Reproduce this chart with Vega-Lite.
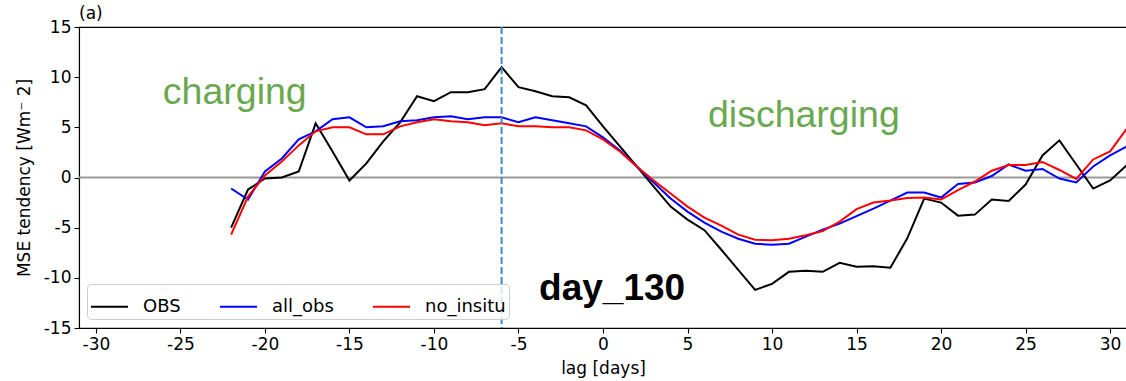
{
  "$schema": "https://vega.github.io/schema/vega-lite/v6.json",
  "width": 1048,
  "height": 301,
  "autosize": {"type": "none"},
  "padding": {"left": 79, "top": 27, "right": 0, "bottom": 53},
  "background": "white",
  "title": {"text": "(a)", "anchor": "start", "frame": "group", "fontSize": 17, "font": "DejaVu Sans", "fontWeight": "normal", "color": "#000000", "offset": -5},
  "config": {
    "view": {"stroke": "#000000", "strokeWidth": 1.1},
    "axis": {"labelFont": "DejaVu Sans", "titleFont": "DejaVu Sans", "labelFontSize": 17, "titleFontSize": 17, "labelColor": "#000000", "titleColor": "#000000", "titleFontWeight": "normal", "domainColor": "#000000", "tickColor": "#000000", "tickSize": 5, "grid": false, "domainWidth": 1.1, "tickWidth": 1.1}
  },
  "datasets": {
    "mse": [
      {"lag": -22, "OBS": -5.0, "all_obs": -1.1, "no_insitu": -5.7},
      {"lag": -21, "OBS": -1.2, "all_obs": -2.2, "no_insitu": -1.9},
      {"lag": -20, "OBS": -0.1, "all_obs": 0.6, "no_insitu": 0.2},
      {"lag": -19, "OBS": 0.0, "all_obs": 1.9, "no_insitu": 1.6},
      {"lag": -18, "OBS": 0.6, "all_obs": 3.8, "no_insitu": 3.2},
      {"lag": -17, "OBS": 5.4, "all_obs": 4.6, "no_insitu": 4.6},
      {"lag": -16, "OBS": 2.6, "all_obs": 5.8, "no_insitu": 5.0},
      {"lag": -15, "OBS": -0.3, "all_obs": 6.0, "no_insitu": 5.0},
      {"lag": -14, "OBS": 1.4, "all_obs": 5.0, "no_insitu": 4.3},
      {"lag": -13, "OBS": 3.6, "all_obs": 5.1, "no_insitu": 4.3},
      {"lag": -12, "OBS": 5.5, "all_obs": 5.6, "no_insitu": 5.1},
      {"lag": -11, "OBS": 8.1, "all_obs": 5.7, "no_insitu": 5.5},
      {"lag": -10, "OBS": 7.6, "all_obs": 6.0, "no_insitu": 5.8},
      {"lag": -9, "OBS": 8.5, "all_obs": 6.1, "no_insitu": 5.6},
      {"lag": -8, "OBS": 8.5, "all_obs": 5.8, "no_insitu": 5.5},
      {"lag": -7, "OBS": 8.8, "all_obs": 6.0, "no_insitu": 5.2},
      {"lag": -6, "OBS": 11.0, "all_obs": 6.0, "no_insitu": 5.4},
      {"lag": -5, "OBS": 9.0, "all_obs": 5.5, "no_insitu": 5.1},
      {"lag": -4, "OBS": 8.6, "all_obs": 6.0, "no_insitu": 5.1},
      {"lag": -3, "OBS": 8.1, "all_obs": 5.7, "no_insitu": 5.0},
      {"lag": -2, "OBS": 8.0, "all_obs": 5.4, "no_insitu": 5.0},
      {"lag": -1, "OBS": 7.2, "all_obs": 5.1, "no_insitu": 4.7},
      {"lag": 0, "OBS": 5.1, "all_obs": 4.0, "no_insitu": 3.8},
      {"lag": 1, "OBS": 3.1, "all_obs": 2.7, "no_insitu": 2.6},
      {"lag": 2, "OBS": 1.1, "all_obs": 1.1, "no_insitu": 1.1},
      {"lag": 3, "OBS": -0.9, "all_obs": -0.5, "no_insitu": -0.3},
      {"lag": 4, "OBS": -2.9, "all_obs": -2.1, "no_insitu": -1.6},
      {"lag": 5, "OBS": -4.2, "all_obs": -3.4, "no_insitu": -2.9},
      {"lag": 6, "OBS": -5.25, "all_obs": -4.5, "no_insitu": -4.0},
      {"lag": 7, "OBS": -7.2, "all_obs": -5.4, "no_insitu": -4.8},
      {"lag": 8, "OBS": -9.2, "all_obs": -6.1, "no_insitu": -5.7},
      {"lag": 9, "OBS": -11.2, "all_obs": -6.6, "no_insitu": -6.2},
      {"lag": 10, "OBS": -10.6, "all_obs": -6.7, "no_insitu": -6.25},
      {"lag": 11, "OBS": -9.4, "all_obs": -6.6, "no_insitu": -6.1},
      {"lag": 12, "OBS": -9.3, "all_obs": -5.9, "no_insitu": -5.75},
      {"lag": 13, "OBS": -9.4, "all_obs": -5.2, "no_insitu": -5.35},
      {"lag": 14, "OBS": -8.5, "all_obs": -4.6, "no_insitu": -4.4},
      {"lag": 15, "OBS": -8.9, "all_obs": -3.85, "no_insitu": -3.15},
      {"lag": 16, "OBS": -8.85, "all_obs": -3.1, "no_insitu": -2.5},
      {"lag": 17, "OBS": -9.0, "all_obs": -2.3, "no_insitu": -2.3},
      {"lag": 18, "OBS": -6.06, "all_obs": -1.5, "no_insitu": -2.05},
      {"lag": 19, "OBS": -2.1, "all_obs": -1.5, "no_insitu": -2.0},
      {"lag": 20, "OBS": -2.5, "all_obs": -2.0, "no_insitu": -2.2},
      {"lag": 21, "OBS": -3.8, "all_obs": -0.65, "no_insitu": -1.25},
      {"lag": 22, "OBS": -3.7, "all_obs": -0.5, "no_insitu": -0.4},
      {"lag": 23, "OBS": -2.2, "all_obs": 0.15, "no_insitu": 0.67},
      {"lag": 24, "OBS": -2.35, "all_obs": 1.3, "no_insitu": 1.25},
      {"lag": 25, "OBS": -0.7, "all_obs": 0.67, "no_insitu": 1.25},
      {"lag": 26, "OBS": 2.2, "all_obs": 0.85, "no_insitu": 1.55},
      {"lag": 27, "OBS": 3.7, "all_obs": -0.1, "no_insitu": 0.75},
      {"lag": 28, "OBS": 1.3, "all_obs": -0.5, "no_insitu": -0.15},
      {"lag": 29, "OBS": -1.1, "all_obs": 1.1, "no_insitu": 1.8},
      {"lag": 30, "OBS": -0.3, "all_obs": 2.2, "no_insitu": 2.6},
      {"lag": 31, "OBS": 1.25, "all_obs": 3.1, "no_insitu": 4.9}
    ]
  },
  "layer": [
    {
      "data": {"values": [{"value": 0}]},
      "mark": {"type": "rule", "color": "#999999", "strokeWidth": 2},
      "encoding": {"y": {"field": "value", "type": "quantitative"}}
    },
    {
      "data": {"name": "mse"},
      "transform": [{"fold": ["OBS", "all_obs", "no_insitu"], "as": ["series", "value"]}],
      "mark": {"type": "line", "strokeWidth": 2},
      "encoding": {
        "x": {"field": "lag", "type": "quantitative", "scale": {"domain": [-31, 31], "nice": false, "zero": false},
              "axis": {"values": [-30, -25, -20, -15, -10, -5, 0, 5, 10, 15, 20, 25, 30], "labelExpr": "datum.value + ''", "title": "lag [days]", "titlePadding": 8, "labelPadding": 3}},
        "y": {"field": "value", "type": "quantitative", "scale": {"domain": [-15, 15], "nice": false},
              "axis": {"values": [-15, -10, -5, 0, 5, 10, 15], "labelExpr": "datum.value + ''", "title": "MSE tendency [Wm⁻ 2]", "titlePadding": 10, "labelPadding": 3}},
        "color": {"field": "series", "type": "nominal",
                  "scale": {"domain": ["OBS", "all_obs", "no_insitu"], "range": ["#000000", "#0000ff", "#ff0000"]},
                  "legend": {"title": null, "orient": "none", "legendX": 8, "legendY": 257, "direction": "horizontal", "columns": 3,
                             "symbolType": "stroke", "symbolSize": 1369, "symbolStrokeWidth": 2,
                             "labelFont": "DejaVu Sans", "labelFontSize": 18, "labelColor": "#000000", "labelOffset": 14,
                             "columnPadding": 35, "padding": 3, "strokeColor": "#cccccc", "fillColor": "rgba(255,255,255,0.8)", "cornerRadius": 4}}
      }
    },
    {
      "data": {"values": [{"lag": -6}]},
      "mark": {"type": "rule", "color": "#3a8bc8", "strokeWidth": 2, "strokeDash": [7, 3]},
      "encoding": {"x": {"field": "lag", "type": "quantitative"}}
    },
    {
      "data": {"values": [{"label": "charging", "lag": -26.04, "value": 7.33}, {"label": "discharging", "lag": 6.21, "value": 5.03}]},
      "mark": {"type": "text", "align": "left", "baseline": "alphabetic", "font": "Liberation Sans", "fontSize": 37.5, "color": "#6aa84f"},
      "encoding": {"x": {"field": "lag", "type": "quantitative"}, "y": {"field": "value", "type": "quantitative"}, "text": {"field": "label"}}
    },
    {
      "data": {"values": [{"label": "day_130", "lag": -3.78, "value": -12.21}]},
      "mark": {"type": "text", "align": "left", "baseline": "alphabetic", "font": "Liberation Sans", "fontSize": 37, "fontWeight": "bold", "color": "#000000"},
      "encoding": {"x": {"field": "lag", "type": "quantitative"}, "y": {"field": "value", "type": "quantitative"}, "text": {"field": "label"}}
    }
  ]
}
